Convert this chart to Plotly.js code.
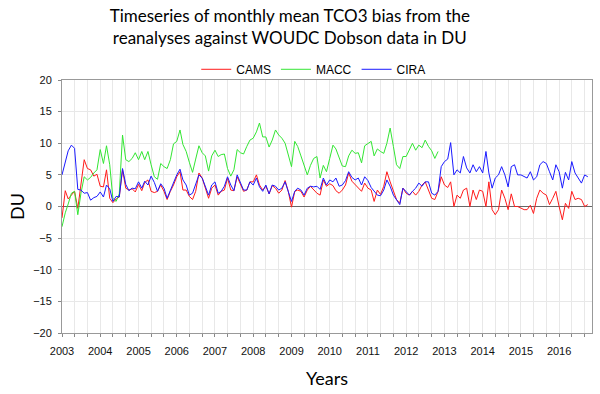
<!DOCTYPE html>
<html>
<head>
<meta charset="utf-8">
<script src="https://cdn.plot.ly/plotly-3.0.1.min.js"></script>
<style>html,body{margin:0;padding:0;background:#fff}#chart{width:600px;height:394px}</style>
</head>
<body>
<div id="chart"></div>
<script>
// monthly mean TCO3 bias (DU), starting Jan 2003
const startYear = 2003;

const cams = [
  -1.8, 2.5, 1.2, 1.8, 2.4, -0.3, 3.5, 7.4, 6.0, 5.8, 4.8, 5.1, 3.2, 3.1, 5.8, 1.3, 0.6, 1.2, 1.5, 5.8, 2.9, 2.6, 2.8, 2.3, 3.5, 2.5, 3.8,
  4.2, 2.4, 2.2, 2.4, 3.4, 2.4, 1.1, 2.4, 3.4, 4.7, 5.5, 2.6, 2.6, 1.6, 1.1, 2.4, 5.3, 4.5, 2.9, 1.3, 2.9, 3.4, 1.8, 2.4, 2.6, 4.5, 2.6, 2.5, 4.7,
  3.4, 2.4, 2.6, 3.9, 3.9, 5.0, 3.4, 2.6, 3.2, 2.0, 3.3, 2.9, 2.1, 2.6, 4.1, 2.4, -0.1, 2.4, 2.6, 2.4, 1.5, 2.6, 3.2, 2.6, 2.1, 1.8, 4.2, 3.2,
  3.6, 3.3, 2.5, 2.1, 2.6, 3.4, 5.3, 4.0, 3.5, 2.9, 2.4, 3.7, 2.9, 2.6, 0.8, 2.6, 1.9, 3.2, 5.5, 3.9, 2.4, 1.1, 0.5, 2.9, 2.1, 1.8, 2.4, 1.8,
  2.4, 3.4, 3.9, 2.6, 1.3, 1.1, 2.4, 4.7, 3.4, 3.0, 3.9, 0.0, 1.8, 1.3, 2.6, 2.9, 0.0, 2.6, 1.1, 2.6, 2.4, 0.0, 3.9, -0.5, -1.3, -0.5, 2.6, 1.3,
  -0.5, 2.0, 0.0, 0.0, -0.3, -0.5, -0.5, 0.2, -1.1, 1.3, 2.6, 2.1, 1.8, 0.3, 1.3, 2.4, 0.0, -2.1, 0.5, -0.3, 2.4, 1.1, 1.3, 1.1, 0.0, 0.3
];

const macc = [
  -3.2, -1.0, 0.4, 2.1, 2.4, -1.3, 2.1, 4.7, 4.2, 4.6, 5.3, 5.8, 9.0, 6.8, 9.6, 6.6, 1.3, 0.8, 2.0, 11.3, 7.4, 7.1, 7.6, 8.5, 7.4, 8.7, 7.4,
  8.7, 6.6, 4.7, 4.3, 6.8, 6.3, 6.0, 7.4, 9.9, 10.3, 12.1, 9.8, 8.7, 7.0, 5.4, 7.5, 9.6, 8.5, 8.0, 5.6, 8.0, 8.9, 7.9, 8.2, 8.3, 6.0, 4.8, 5.8, 9.0,
  8.5, 8.3, 9.5, 10.5, 10.8, 11.8, 13.2, 11.0, 11.0, 9.4, 10.5, 12.1, 11.3, 10.8, 10.0, 8.0, 6.3, 10.3, 9.5, 8.0, 6.5, 5.0, 6.5, 7.6, 7.9,
  4.5, 6.5, 5.5, 7.6, 9.7, 9.1, 7.6, 6.4, 6.3, 8.0, 8.9, 8.4, 8.5, 6.9, 9.6, 10.0, 10.3, 8.0, 9.1, 8.7, 8.4, 10.0, 12.4, 9.5, 6.6, 6.0, 7.9, 7.9, 8.9, 10.0, 8.9,
  9.7, 9.3, 10.5, 9.5, 8.8, 7.6, 8.7
];

const cira = [
  5.0, 7.2, 8.8, 9.7, 9.2, 2.7, 2.6, 2.1, 2.2, 1.0, 1.4, 1.6, 2.3, 1.5, 3.4, 2.8, 0.8, 1.6, 1.5, 6.0, 3.5, 2.5, 2.9, 2.8, 3.9, 2.9, 4.0,
  3.4, 4.8, 3.8, 2.4, 3.6, 2.9, 1.3, 2.6, 3.7, 5.0, 5.9, 4.2, 3.4, 1.8, 2.1, 3.4, 5.0, 4.5, 3.2, 1.8, 3.4, 3.9, 2.1, 2.4, 3.2, 4.7, 3.4, 2.5, 5.0,
  3.9, 2.6, 2.6, 3.9, 3.4, 4.5, 3.1, 2.4, 3.4, 2.0, 3.4, 3.2, 2.6, 2.9, 3.9, 2.5, 0.8, 2.4, 2.9, 2.6, 1.8, 2.9, 3.2, 3.1, 3.2, 2.7, 4.5, 3.4,
  4.2, 3.9, 4.5, 3.2, 3.4, 4.1, 5.5, 4.6, 4.2, 4.5, 3.4, 4.7, 4.1, 3.0, 2.4, 1.8, 1.7, 2.6, 4.2, 3.2, 1.8, 1.1, 0.3, 2.9, 2.4, 1.8, 2.4, 2.9,
  3.7, 3.2, 3.9, 3.9, 2.1, 1.8, 2.4, 6.3, 7.1, 7.5, 10.1, 5.0, 5.8, 5.3, 7.9, 6.1, 5.3, 6.6, 5.5, 6.3, 5.3, 8.7, 5.3, 2.9, 4.5, 5.0, 6.3, 5.0,
  3.1, 6.3, 6.6, 5.0, 5.0, 4.7, 4.5, 5.5, 4.2, 4.7, 6.6, 7.1, 6.8, 5.5, 4.2, 6.6, 5.5, 2.9, 5.4, 4.2, 7.1, 5.3, 4.5, 3.7, 5.0, 4.7
];

function months(n) {
  const out = [];
  for (let i = 0; i < n; i++) {
    const y = startYear + Math.floor(i / 12);
    const m = (i % 12) + 1;
    out.push(y + '-' + String(m).padStart(2, '0') + '-01');
  }
  return out;
}

const series = [
  {name: 'CAMS', y: cams, color: '#ff1a1a'},
  {name: 'MACC', y: macc, color: '#33e633'},
  {name: 'CIRA', y: cira, color: '#1a1aff'}
];

const data = series.map(s => ({
  x: months(s.y.length),
  y: s.y,
  type: 'scatter',
  mode: 'lines',
  name: s.name,
  line: {color: s.color, width: 1}
}));

const layout = {
  width: 600,
  height: 394,
  margin: {l: 62, r: 8, t: 80, b: 61},
  paper_bgcolor: '#fff',
  plot_bgcolor: '#fff',
  title: {
    text: 'Timeseries of monthly mean TCO3 bias from the<br>reanalyses against WOUDC Dobson data in DU',
    font: {family: 'Lato', size: 17, color: '#000'},
    xref: 'container', x: 0.483, xanchor: 'center',
    yref: 'container', y: 0.945, yanchor: 'top'
  },
  showlegend: true,
  legend: {
    orientation: 'h', x: 0.475, xanchor: 'center', y: 0.985, yanchor: 'bottom',
    bgcolor: 'rgba(0,0,0,0)',
    font: {family: 'Liberation Sans', size: 12, color: '#000'}
  },
  xaxis: {
    type: 'date',
    range: ['2003-01-01', '2016-11-10'],
    tick0: '2003-01-01', dtick: 'M12', tickformat: '%Y',
    ticks: 'outside', ticklen: 3, tickcolor: '#888',
    ticklabelstandoff: 5,
    showgrid: true, gridcolor: '#e8e8e8',
    minor: {dtick: 'M4', ticks: 'outside', ticklen: 3, tickcolor: '#888', showgrid: true, gridcolor: '#e8e8e8'},
    showline: true, linecolor: '#999', linewidth: 1, mirror: true,
    zeroline: false,
    tickfont: {family: 'Liberation Sans', size: 11, color: '#111'},
    title: {text: 'Years', font: {family: 'Lato', size: 18, color: '#000'}, standoff: 16}
  },
  yaxis: {
    range: [-20, 20], dtick: 5,
    ticks: 'outside', ticklen: 3, tickcolor: '#888',
    ticklabelstandoff: 4,
    showgrid: true, gridcolor: '#e8e8e8',
    zeroline: true, zerolinecolor: '#666', zerolinewidth: 1.5,
    showline: true, linecolor: '#999', linewidth: 1, mirror: true,
    tickfont: {family: 'Liberation Sans', size: 11, color: '#111'},
    title: {text: 'DU', font: {family: 'Lato', size: 18, color: '#000'}, standoff: 3}
  }
};

Plotly.newPlot('chart', data, layout, {displayModeBar: false, staticPlot: true});
</script>
</body>
</html>
